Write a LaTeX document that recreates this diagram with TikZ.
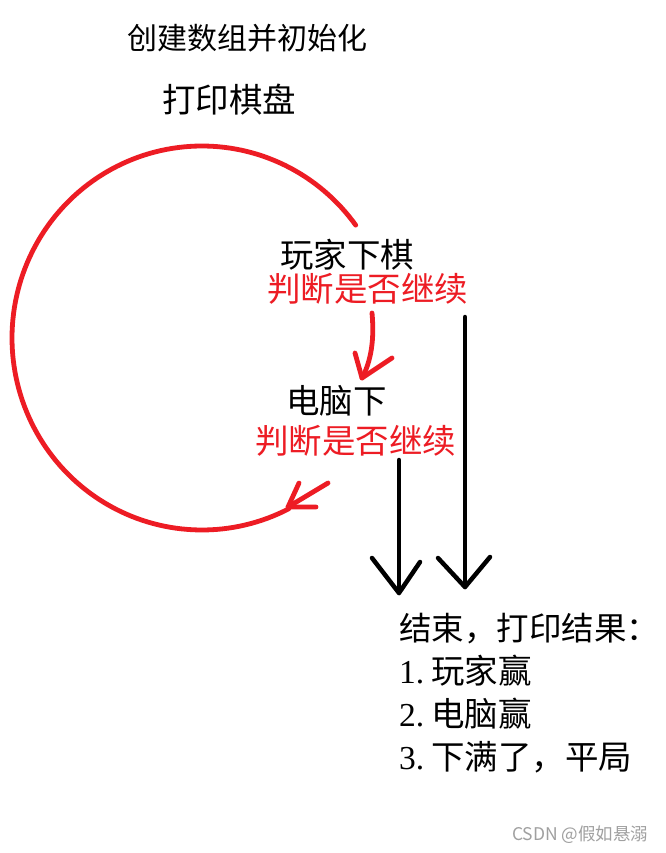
\documentclass[tikz,border=0pt]{standalone}
\usepackage{fontspec}
\newfontfamily\cjk{Noto Sans CJK SC}
\newfontfamily\latinserif{Liberation Serif}
\definecolor{pred}{RGB}{237,28,36}
\definecolor{wmgray}{RGB}{160,160,160}
\begin{document}
\begin{tikzpicture}[x=1pt,y=-1pt,
  lbl/.style={anchor=west,inner sep=0pt,font=\cjk\fontsize{33.5}{36}\selectfont},
  redlbl/.style={lbl,text=pred},
  redline/.style={draw=pred,line width=4.8pt,line cap=round,line join=round},
  blackline/.style={draw=black,line width=4.5pt,line cap=round,line join=round}]
\useasboundingbox[fill=white] (0,0) rectangle (665,853);

% texts
\node[lbl,font=\cjk\fontsize{30}{33}\selectfont] (init) at (127,38) {创建数组并初始化};
\node[lbl] (print) at (162,100) {打印棋盘};
\node[lbl] (player) at (280,255) {玩家下棋};
\node[redlbl] (pjudge) at (267,289) {判断是否继续};
\node[lbl] (computer) at (286,401) {电脑下};
\node[redlbl] (cjudge) at (255,441) {判断是否继续};
\node[lbl,font=\cjk\fontsize{32.5}{36}\selectfont] (res0) at (399,629) {结束，打印结果：};
\node[lbl] (res1) at (399,671) {{\latinserif 1.}\hspace{7pt}玩家赢};
\node[lbl] (res2) at (399,714) {{\latinserif 2.}\hspace{7pt}电脑赢};
\node[lbl] (res3) at (399,757) {{\latinserif 3.}\hspace{7pt}下满了，平局};
\node[anchor=west,inner sep=0pt,text=wmgray,font=\cjk\fontsize{17.5}{19}\selectfont] (wm) at (512,835) {CSDN @假如悬溺};

% red loop (computer back to player)
\coordinate (loopstart) at (353,230);
\coordinate (looptip) at (288,507);
\coordinate (looptail) at (328,483);
\coordinate (loopa) at (299,483);
\coordinate (loopb) at (316,507);
\draw[redline] plot[domain=36:297.2,samples=150,variable=\t] ({202+190*cos(\t)},{338-192*sin(\t)});
\draw[redline] (looptail) -- (looptip);
\draw[redline] (loopa) -- (looptip) -- (loopb);

% red arrow player -> computer
\coordinate (pcstart) at (372,313);
\coordinate (pctip) at (362,378);
\coordinate (pca) at (355,353);
\coordinate (pcb) at (392,358);
\draw[redline] (pcstart) .. controls (375,345) and (369,365) .. (pctip);
\draw[redline] (pca) -- (pctip) -- (pcb);

% black arrows to result
\coordinate (b1start) at (465,317);
\coordinate (b1tip) at (465,587);
\coordinate (b1a) at (438,558);
\coordinate (b1b) at (490,557);
\draw[blackline] (b1start) -- (b1tip);
\draw[blackline] (b1a) -- (b1tip) -- (b1b);

\coordinate (b2start) at (399,460);
\coordinate (b2tip) at (399,593);
\coordinate (b2a) at (372,558);
\coordinate (b2b) at (420,562);
\draw[blackline] (b2start) -- (b2tip);
\draw[blackline] (b2a) -- (b2tip) -- (b2b);
\end{tikzpicture}
\end{document}
